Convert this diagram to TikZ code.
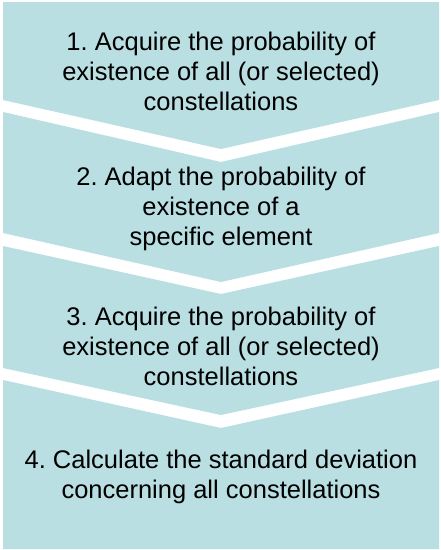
\documentclass[tikz,border=0pt]{standalone}
\usepackage{fontspec}
\setmainfont{Liberation Sans}
\frenchspacing
\definecolor{boxfill}{RGB}{185,223,226}
\begin{document}
\begin{tikzpicture}[x=1pt,y=-1pt,
  chev/.style={fill=boxfill,draw=none},
  steptext/.style={align=center,inner sep=0pt,anchor=base,
    font=\fontsize{25.5pt}{30pt}\selectfont\frenchspacing,text=black}]
\useasboundingbox (0,0) rectangle (441,550);
\fill[white] (0,0) rectangle (441,550);
\path[chev] (3,2) -- (439,2) -- (439,100) -- (221,149) -- (3,100) -- cycle;
\path[chev] (3,112) -- (221,162) -- (439,112) -- (439,233) -- (221,282) -- (3,233) -- cycle;
\path[chev] (3,246) -- (221,294) -- (439,246) -- (439,368) -- (221,415) -- (3,368) -- cycle;
\path[chev] (3,380) -- (221,428) -- (439,380) -- (439,549) -- (3,549) -- cycle;
\node[steptext] (t1) at (221,110) {1. Acquire the probability of\\existence of all (or selected)\\constellations};
\node[steptext] (t2) at (221,245) {2. Adapt the probability of\\existence of a\\specific element};
\node[steptext] (t3) at (221,385) {3. Acquire the probability of\\existence of all (or selected)\\constellations};
\node[steptext] (t4) at (221,498) {4. Calculate the standard deviation\\concerning all constellations};
\end{tikzpicture}
\end{document}
